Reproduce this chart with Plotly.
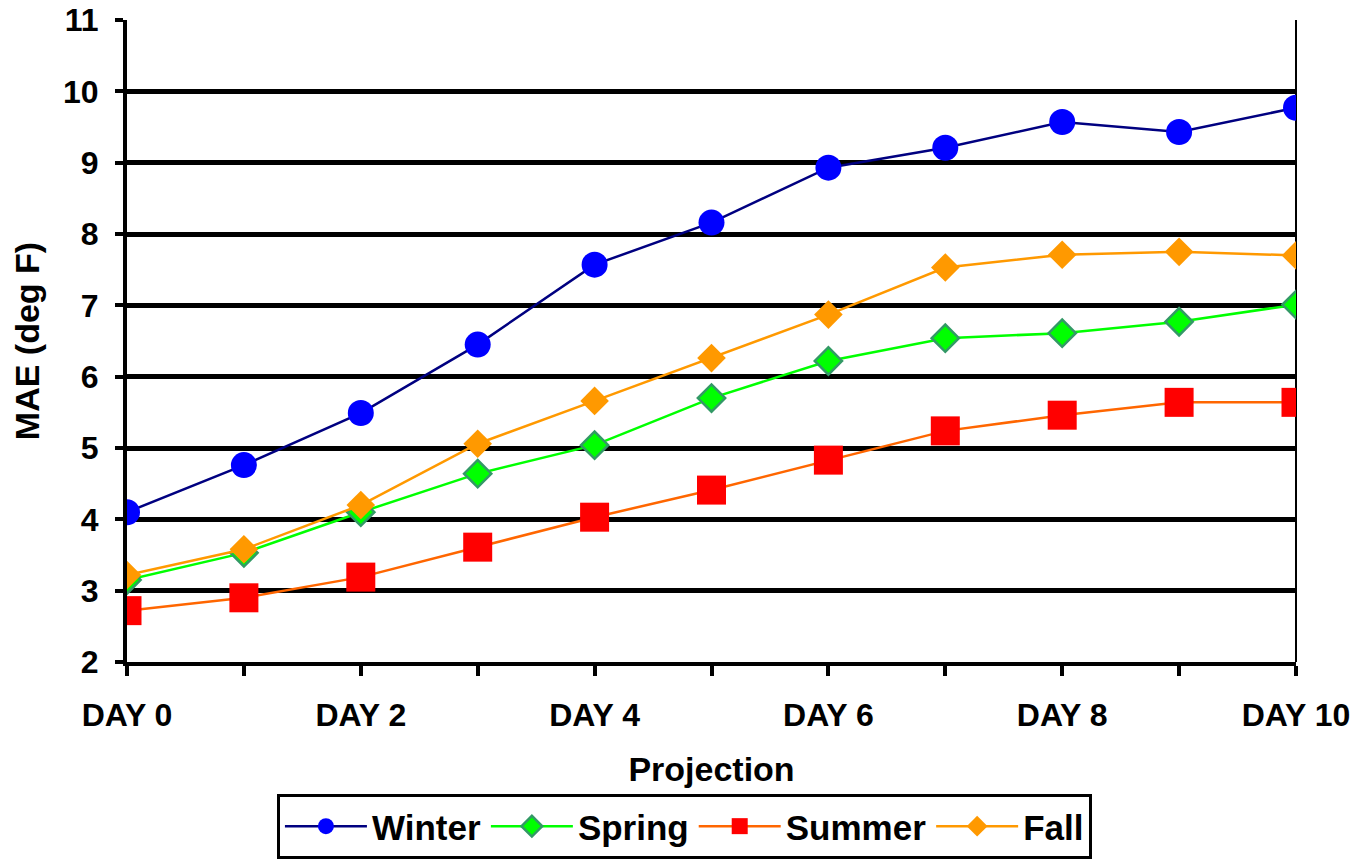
import plotly.graph_objects as go

days = list(range(11))
tick_text = ["DAY 0", "", "DAY 2", "", "DAY 4", "", "DAY 6", "", "DAY 8", "", "DAY 10"]
winter = [4.10, 4.76, 5.49, 6.45, 7.57, 8.16, 8.93, 9.21, 9.57, 9.43, 9.77]
spring = [3.15, 3.53, 4.10, 4.64, 5.04, 5.70, 6.22, 6.54, 6.61, 6.77, 7.01]
summer = [2.72, 2.90, 3.19, 3.61, 4.03, 4.41, 4.83, 5.24, 5.46, 5.64, 5.64]
fall = [3.22, 3.58, 4.20, 5.06, 5.66, 6.26, 6.87, 7.53, 7.71, 7.75, 7.70]

FONT = "Liberation Sans, Arial, sans-serif"

fig = go.Figure()
fig.add_trace(go.Scatter(x=days, y=winter, name="Winter", mode="lines+markers",
                         line=dict(color="#000080", width=2.5),
                         marker=dict(symbol="circle", size=26, color="#0000FF")))
fig.add_trace(go.Scatter(x=days, y=spring, name="Spring", mode="lines+markers",
                         line=dict(color="#00FF00", width=2.5),
                         marker=dict(symbol="diamond", size=21, color="#00FF00",
                                     line=dict(color="#339966", width=2.5))))
fig.add_trace(go.Scatter(x=days, y=summer, name="Summer", mode="lines+markers",
                         line=dict(color="#FF6600", width=2.5),
                         marker=dict(symbol="square", size=29, color="#FF0000")))
fig.add_trace(go.Scatter(x=days, y=fall, name="Fall", mode="lines+markers",
                         line=dict(color="#FF9900", width=2.5),
                         marker=dict(symbol="diamond", size=22, color="#FF9900")))

fig.update_layout(
    width=1358, height=862,
    margin=dict(l=127, r=62, t=20, b=200, autoexpand=False),
    paper_bgcolor="white", plot_bgcolor="white",
    font=dict(family=FONT, color="black", size=32),
    showlegend=True,
    legend=dict(orientation="h", xref="container", yref="container",
                x=0.504, xanchor="center", y=0.079, yanchor="top",
                bordercolor="black", borderwidth=3, bgcolor="white",
                font=dict(family=FONT, size=35, color="black", weight="bold"),
                itemwidth=82, itemsizing="trace"),
    xaxis=dict(range=[0, 10], tickvals=days, ticktext=tick_text,
               showgrid=False, zeroline=False, automargin=False,
               showline=True, linecolor="black", linewidth=4,
               ticks="outside", ticklen=10, tickwidth=4, tickcolor="black",
               ticklabelstandoff=12,
               tickfont=dict(family=FONT, size=32, color="black", weight="bold"),
               title=dict(text="Projection", standoff=26,
                          font=dict(family=FONT, size=34, color="black", weight="bold"))),
    yaxis=dict(range=[2, 11], dtick=1, tick0=2, automargin=False,
               showgrid=True, gridcolor="black", gridwidth=4.5, zeroline=False,
               showline=True, linecolor="black", linewidth=4,
               ticks="outside", ticklen=8, tickwidth=4, tickcolor="black",
               ticklabelstandoff=10,
               tickfont=dict(family=FONT, size=32, color="black", weight="bold"),
               title=dict(text="MAE (deg F)", standoff=14,
                          font=dict(family=FONT, size=34, color="black", weight="bold"))),
    shapes=[dict(type="line", xref="paper", yref="paper", x0=1, x1=1, y0=0, y1=1,
                 line=dict(color="black", width=2), layer="below")],
)

fig.write_html("out.html", config={"displayModeBar": False},
               post_script="document.body.style.margin='0';document.body.style.overflow='hidden';")
